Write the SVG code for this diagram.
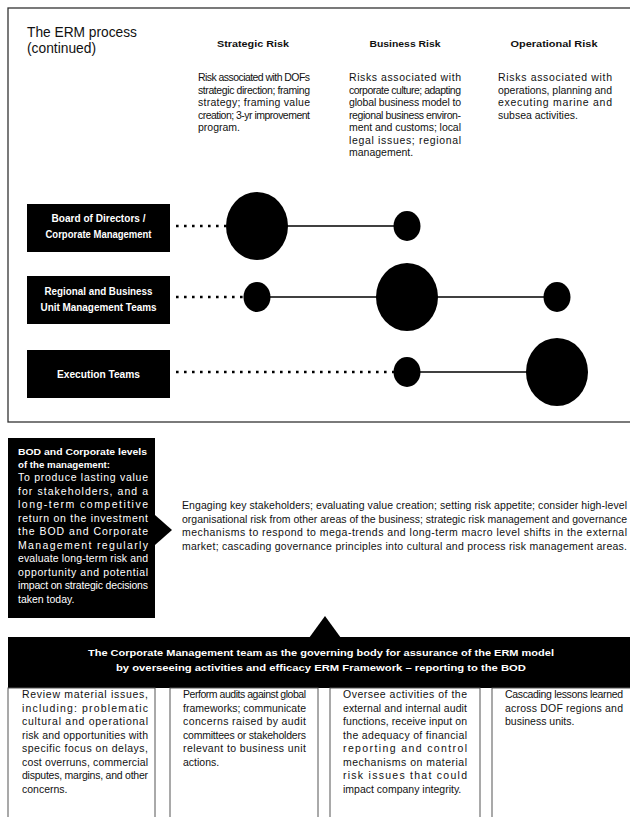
<svg xmlns="http://www.w3.org/2000/svg" width="630" height="817" viewBox="0 0 630 817">
<style>
.t{font-family:"Liberation Sans Narrow","Liberation Sans",Arial,sans-serif;font-size:10.5px;fill:#111}
.tw{font-family:"Liberation Sans Narrow","Liberation Sans",Arial,sans-serif;font-size:10.5px;fill:#fff}
.b{font-family:"Liberation Sans","DejaVu Sans",Arial,sans-serif;font-weight:bold;font-size:9.5px}
.n{font-family:"Liberation Sans","DejaVu Sans",Arial,sans-serif;font-weight:bold;font-size:10px;fill:#fff}
.h{fill:#111}
.w{fill:#fff}
.title{font-family:"Liberation Sans",Arial,sans-serif;font-size:14.5px;fill:#111}
.frame{fill:none;stroke:#333;stroke-width:1.3}
.col{fill:#fff;stroke:#555;stroke-width:1}
.dot{stroke:#000;stroke-width:2.6;stroke-dasharray:2.6 5.4;fill:none}
.ln{stroke:#000;stroke-width:1.4;fill:none}
</style>

<rect class="frame" x="8" y="8" width="640" height="414"/>

<g id="title">
<text class="title" x="27" y="37" textLength="110" lengthAdjust="spacingAndGlyphs">The ERM process</text>
<text class="title" x="27" y="53" textLength="69" lengthAdjust="spacingAndGlyphs">(continued)</text>
</g>

<g id="strategic-risk">
<text class="b h" x="253" y="47" text-anchor="middle" textLength="72" lengthAdjust="spacingAndGlyphs">Strategic Risk</text>
<text class="t" x="198" y="81" textLength="112" lengthAdjust="spacing">Risk associated with DOFs</text>
<text class="t" x="198" y="93.5" textLength="112" lengthAdjust="spacing">strategic direction; framing</text>
<text class="t" x="198" y="106" textLength="112" lengthAdjust="spacing">strategy; framing value</text>
<text class="t" x="198" y="118.5" textLength="112" lengthAdjust="spacing">creation; 3-yr improvement</text>
<text class="t" x="198" y="131">program.</text>
</g>

<g id="business-risk">
<text class="b h" x="405" y="47" text-anchor="middle" textLength="71" lengthAdjust="spacingAndGlyphs">Business Risk</text>
<text class="t" x="349" y="81" textLength="112" lengthAdjust="spacing">Risks associated with</text>
<text class="t" x="349" y="93.5" textLength="112" lengthAdjust="spacing">corporate culture; adapting</text>
<text class="t" x="349" y="106" textLength="112" lengthAdjust="spacing">global business model to</text>
<text class="t" x="349" y="118.5" textLength="112" lengthAdjust="spacing">regional business environ-</text>
<text class="t" x="349" y="131" textLength="112" lengthAdjust="spacing">ment and customs; local</text>
<text class="t" x="349" y="143.5" textLength="112" lengthAdjust="spacing">legal issues; regional</text>
<text class="t" x="349" y="156">management.</text>
</g>

<g id="operational-risk">
<text class="b h" x="554" y="47" text-anchor="middle" textLength="87" lengthAdjust="spacingAndGlyphs">Operational Risk</text>
<text class="t" x="498" y="81" textLength="114" lengthAdjust="spacing">Risks associated with</text>
<text class="t" x="498" y="93.5" textLength="114" lengthAdjust="spacing">operations, planning and</text>
<text class="t" x="498" y="106" textLength="114" lengthAdjust="spacing">executing marine and</text>
<text class="t" x="498" y="118.5">subsea activities.</text>
</g>

<g id="board">
<rect x="27" y="204" width="143" height="48" fill="#000"/>
<text class="n" x="98.5" y="222" text-anchor="middle" textLength="94" lengthAdjust="spacingAndGlyphs">Board of Directors /</text>
<text class="n" x="98.5" y="238" text-anchor="middle" textLength="106" lengthAdjust="spacingAndGlyphs">Corporate Management</text>
</g>
<g id="regional">
<rect x="27" y="276" width="143" height="48" fill="#000"/>
<text class="n" x="98.5" y="295" text-anchor="middle" textLength="108" lengthAdjust="spacingAndGlyphs">Regional and Business</text>
<text class="n" x="98.5" y="311" text-anchor="middle" textLength="116" lengthAdjust="spacingAndGlyphs">Unit Management Teams</text>
</g>
<g id="execution">
<rect x="27" y="350" width="143" height="48" fill="#000"/>
<text class="n" x="98.5" y="378" text-anchor="middle" textLength="83" lengthAdjust="spacingAndGlyphs">Execution Teams</text>
</g>

<g id="connectors">
<line class="dot" x1="176" y1="226" x2="226" y2="226"/>
<line class="ln" x1="257" y1="226" x2="407" y2="226"/>
<line class="dot" x1="176" y1="297" x2="246" y2="297"/>
<line class="ln" x1="257" y1="297" x2="557" y2="297"/>
<line class="dot" x1="176" y1="372" x2="396" y2="372"/>
<line class="ln" x1="407" y1="372" x2="557" y2="372"/>
</g>

<g id="dots">
<ellipse cx="257" cy="226" rx="31" ry="34" fill="#000"/>
<ellipse cx="407" cy="226" rx="13.5" ry="15" fill="#000"/>
<ellipse cx="257" cy="297" rx="13.5" ry="15" fill="#000"/>
<ellipse cx="407" cy="297" rx="31" ry="34" fill="#000"/>
<ellipse cx="557" cy="297" rx="13.5" ry="15" fill="#000"/>
<ellipse cx="407" cy="372" rx="13.5" ry="15" fill="#000"/>
<ellipse cx="557" cy="372" rx="31" ry="34" fill="#000"/>
</g>

<g id="bod-levels">
<rect x="8" y="438" width="147" height="180" fill="#000"/>
<polygon points="155,515 172,530 155,545" fill="#000"/>
<text class="b w" x="18" y="455" textLength="129" lengthAdjust="spacingAndGlyphs">BOD and Corporate levels</text>
<text class="b w" x="18" y="468" textLength="92" lengthAdjust="spacingAndGlyphs">of the management:</text>
<text class="tw" x="18" y="481" textLength="130" lengthAdjust="spacing">To produce lasting value</text>
<text class="tw" x="18" y="494.5" textLength="130" lengthAdjust="spacing">for stakeholders, and a</text>
<text class="tw" x="18" y="508" textLength="130" lengthAdjust="spacing">long-term competitive</text>
<text class="tw" x="18" y="521.5" textLength="130" lengthAdjust="spacing">return on the investment</text>
<text class="tw" x="18" y="535" textLength="130" lengthAdjust="spacing">the BOD and Corporate</text>
<text class="tw" x="18" y="548.5" textLength="130" lengthAdjust="spacing">Management regularly</text>
<text class="tw" x="18" y="562" textLength="130" lengthAdjust="spacing">evaluate long-term risk and</text>
<text class="tw" x="18" y="575.5" textLength="130" lengthAdjust="spacing">opportunity and potential</text>
<text class="tw" x="18" y="589" textLength="130" lengthAdjust="spacing">impact on strategic decisions</text>
<text class="tw" x="18" y="602.5">taken today.</text>
</g>

<g id="bod-activities">
<text class="t" x="182" y="509" textLength="445" lengthAdjust="spacing">Engaging key stakeholders; evaluating value creation; setting risk appetite; consider high-level</text>
<text class="t" x="182" y="522.5" textLength="445" lengthAdjust="spacing">organisational risk from other areas of the business; strategic risk management and governance</text>
<text class="t" x="182" y="536" textLength="445" lengthAdjust="spacing">mechanisms to respond to mega-trends and long-term macro level shifts in the external</text>
<text class="t" x="182" y="549.5" textLength="445" lengthAdjust="spacing">market; cascading governance principles into cultural and process risk management areas.</text>
</g>

<g id="corporate-management">
<polygon points="309,638 325,616 341,638" fill="#000"/>
<rect x="8" y="637" width="630" height="51" fill="#000"/>
<text class="b w" x="321" y="656" text-anchor="middle" textLength="466" lengthAdjust="spacingAndGlyphs">The Corporate Management team as the governing body for assurance of the ERM model</text>
<text class="b w" x="321" y="671" text-anchor="middle" textLength="410" lengthAdjust="spacingAndGlyphs">by overseeing activities and efficacy ERM Framework – reporting to the BOD</text>
</g>

<g id="review">
<rect class="col" x="8" y="688" width="147" height="140"/>
<text class="t" x="22" y="698" textLength="126" lengthAdjust="spacing">Review material issues,</text>
<text class="t" x="22" y="711.5" textLength="126" lengthAdjust="spacing">including: problematic</text>
<text class="t" x="22" y="725" textLength="126" lengthAdjust="spacing">cultural and operational</text>
<text class="t" x="22" y="738.5" textLength="126" lengthAdjust="spacing">risk and opportunities with</text>
<text class="t" x="22" y="752" textLength="126" lengthAdjust="spacing">specific focus on delays,</text>
<text class="t" x="22" y="765.5" textLength="126" lengthAdjust="spacing">cost overruns, commercial</text>
<text class="t" x="22" y="779" textLength="126" lengthAdjust="spacing">disputes, margins, and other</text>
<text class="t" x="22" y="792.5">concerns.</text>
</g>

<g id="audits">
<rect class="col" x="170" y="688" width="148" height="140"/>
<text class="t" x="183" y="698" textLength="123" lengthAdjust="spacing">Perform audits against global</text>
<text class="t" x="183" y="711.5" textLength="123" lengthAdjust="spacing">frameworks; communicate</text>
<text class="t" x="183" y="725" textLength="123" lengthAdjust="spacing">concerns raised by audit</text>
<text class="t" x="183" y="738.5" textLength="123" lengthAdjust="spacing">committees or stakeholders</text>
<text class="t" x="183" y="752" textLength="123" lengthAdjust="spacing">relevant to business unit</text>
<text class="t" x="183" y="765.5">actions.</text>
</g>

<g id="oversee">
<rect class="col" x="330" y="688" width="150" height="140"/>
<text class="t" x="343" y="698" textLength="124" lengthAdjust="spacing">Oversee activities of the</text>
<text class="t" x="343" y="711.5" textLength="124" lengthAdjust="spacing">external and internal audit</text>
<text class="t" x="343" y="725" textLength="124" lengthAdjust="spacing">functions, receive input on</text>
<text class="t" x="343" y="738.5" textLength="124" lengthAdjust="spacing">the adequacy of financial</text>
<text class="t" x="343" y="752" textLength="124" lengthAdjust="spacing">reporting and control</text>
<text class="t" x="343" y="765.5" textLength="124" lengthAdjust="spacing">mechanisms on material</text>
<text class="t" x="343" y="779" textLength="124" lengthAdjust="spacing">risk issues that could</text>
<text class="t" x="343" y="792.5">impact company integrity.</text>
</g>

<g id="lessons">
<rect class="col" x="492" y="688" width="150" height="140"/>
<text class="t" x="505" y="698" textLength="118" lengthAdjust="spacing">Cascading lessons learned</text>
<text class="t" x="505" y="711.5" textLength="118" lengthAdjust="spacing">across DOF regions and</text>
<text class="t" x="505" y="725">business units.</text>
</g>
</svg>
